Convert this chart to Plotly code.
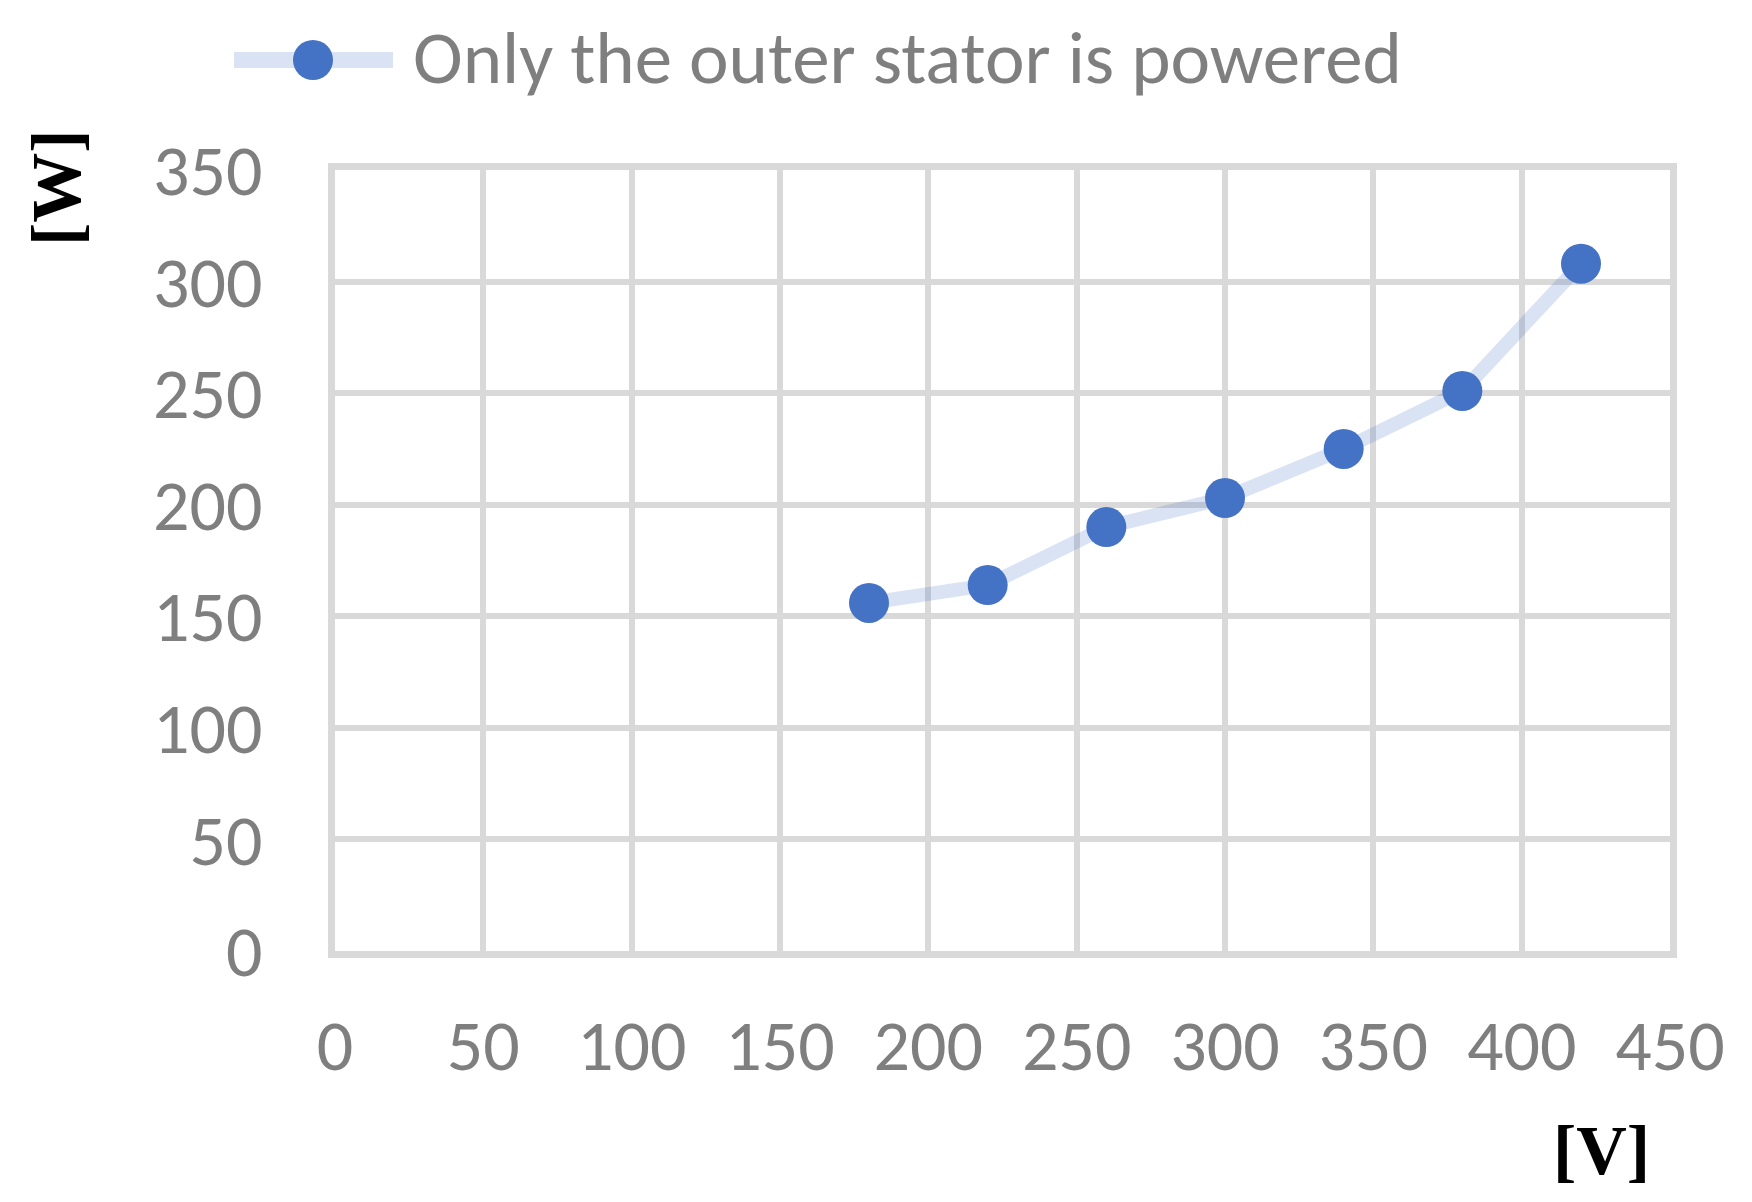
import plotly.graph_objects as go

# Data
voltage = [180, 220, 260, 300, 340, 380, 420]
power = [156, 164, 190, 203, 225, 251, 308]
series_name = "Only the outer stator is powered"

x_ticks = [0, 50, 100, 150, 200, 250, 300, 350, 400, 450]
y_ticks = [0, 50, 100, 150, 200, 250, 300, 350]

# the page puts the figure 8px in from the corner
OFF = 8
W, H = 1752 - 2 * OFF, 1202 - 2 * OFF
L, T = 335 - OFF, 170 - OFF
R = W - (1670 - OFF)
B = H - (951 - OFF)
PW, PH = W - L - R, H - T - B

BLUE = "#4472C4"
LINE = "rgba(68,114,196,0.2)"
GRID = "#d9d9d9"
GRAY = "#7f7f7f"
TICKFONT = "Calibri, Carlito, Open Sans, sans-serif"


# page pixel -> paper coordinates
def px_x(px):
    return (px - OFF - L) / PW


def px_y(py):
    return (T + PH - (py - OFF)) / PH


fig = go.Figure()

fig.add_trace(go.Scatter(
    x=voltage, y=power,
    mode="lines+markers",
    name=series_name,
    line=dict(color=LINE, width=14),
    marker=dict(color=BLUE, size=40),
    showlegend=False,
))

# hand drawn legend so the marker keeps its real size
fig.add_shape(type="line", xref="paper", yref="paper",
              x0=px_x(234), x1=px_x(393), y0=px_y(60), y1=px_y(60),
              line=dict(color=LINE, width=16))
fig.add_shape(type="circle", xref="paper", yref="paper",
              x0=px_x(293), x1=px_x(333), y0=px_y(80), y1=px_y(40),
              fillcolor=BLUE, line=dict(width=0))
fig.add_annotation(text=series_name, xref="paper", yref="paper",
                   x=px_x(411), y=px_y(57), xanchor="left", yanchor="middle",
                   showarrow=False, font=dict(family=TICKFONT, size=75, color=GRAY))

# axis titles
fig.add_annotation(text="<b>[W]</b>", xref="paper", yref="paper",
                   x=px_x(57), y=px_y(188), xanchor="center", yanchor="middle",
                   textangle=-90, showarrow=False,
                   font=dict(family="Liberation Serif", size=70, color="black"))
fig.add_annotation(text="<b>[V]</b>", xref="paper", yref="paper",
                   x=px_x(1601), y=px_y(1150), xanchor="center", yanchor="middle",
                   showarrow=False,
                   font=dict(family="Liberation Serif", size=70, color="black"))

fig.update_xaxes(
    range=[0, 450], tickvals=x_ticks,
    showgrid=True, gridcolor=GRID, gridwidth=6,
    showline=True, linecolor=GRID, linewidth=7, mirror=True,
    zeroline=False, ticks="", ticklabelstandoff=26,
    tickfont=dict(family=TICKFONT, size=72, color=GRAY),
)
fig.update_yaxes(
    range=[0, 350], tickvals=y_ticks,
    showgrid=True, gridcolor=GRID, gridwidth=6,
    showline=True, linecolor=GRID, linewidth=7, mirror=True,
    zeroline=False, ticks="", ticklabelstandoff=51,
    tickfont=dict(family=TICKFONT, size=72, color=GRAY),
)

fig.update_layout(
    width=W, height=H,
    margin=dict(l=L, r=R, t=T, b=B),
    plot_bgcolor="white", paper_bgcolor="white",
    showlegend=False,
)

fig.write_html("out.html")
